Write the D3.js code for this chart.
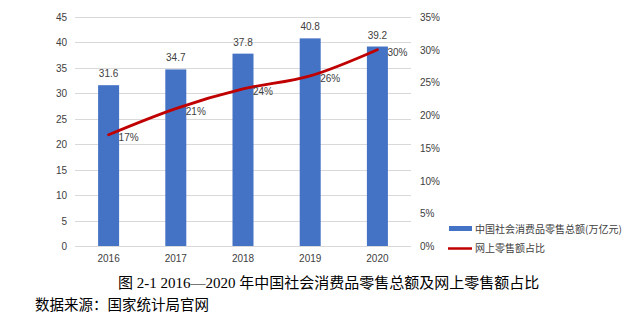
<!DOCTYPE html>
<meta charset="utf-8">
<style>
	body { margin: 0; background: #fff; }
	.tick-label { font-family: "Liberation Sans", "Open Sans", sans-serif; font-size: 10px; fill: #404040; }
	.grid line { stroke: #d9d9d9; stroke-width: 1; }
	.val-label { font-family: "Liberation Sans", "Open Sans", sans-serif; font-size: 10px; fill: #404040; }
	.legend-label { font-family: "Noto Sans CJK SC", sans-serif; font-size: 10px; fill: #404040; }
	.caption { font-family: "Liberation Serif", "Noto Sans CJK SC", serif; fill: #000; }
</style>
<div id="chart"></div>
<script src="https://d3js.org/d3.v7.min.js"></script>
<script>

	// Data
	const years = ["2016", "2017", "2018", "2019", "2020"];
	const retailTotal = [31.6, 34.7, 37.8, 40.8, 39.2];      // 万亿元
	const onlineShare = [0.17, 0.21, 0.24, 0.26, 0.30];
	const leftTicks = [0, 5, 10, 15, 20, 25, 30, 35, 40, 45];
	const rightTicks = [0, 0.05, 0.10, 0.15, 0.20, 0.25, 0.30, 0.35];
	const seriesNames = ["中国社会消费品零售总额(万亿元)", "网上零售额占比"];

	const W = 637, H = 323;
	const plot = { left: 75, right: 411, top: 17, bottom: 246 };

	const svg = d3.select("#chart").append("svg")
		.attr("width", W)
		.attr("height", H);

	// Scales
	const x = d3.scaleBand().domain(years).range([plot.left, plot.right]);
	const yL = d3.scaleLinear().domain([0, 45]).range([plot.bottom, plot.top]);
	const yR = d3.scaleLinear().domain([0, 0.35]).range([plot.bottom, plot.top]);
	const barW = 21;

	// Gridlines
	svg.append("g")
		.attr("class", "grid")
		.selectAll("line")
		.data(leftTicks)
		.join("line")
		.attr("x1", plot.left)
		.attr("x2", plot.right)
		.attr("y1", d => Math.round(yL(d)) + 0.5)
		.attr("y2", d => Math.round(yL(d)) + 0.5);

	// Left axis
	const leftAxis = svg.append("g")
		.attr("transform", `translate(${plot.left - 8},0)`)
		.call(d3.axisLeft(yL).tickValues(leftTicks).tickSize(0).tickPadding(0));
	leftAxis.select(".domain").remove();
	leftAxis.selectAll("text").attr("class", "tick-label").attr("dy", "0.35em");

	// Right axis
	const rightAxis = svg.append("g")
		.attr("transform", `translate(${plot.right + 9},0)`)
		.call(d3.axisRight(yR).tickValues(rightTicks).tickFormat(d3.format(".0%")).tickSize(0).tickPadding(0));
	rightAxis.select(".domain").remove();
	rightAxis.selectAll("text").attr("class", "tick-label").attr("dy", "0.35em");

	// Bottom axis labels
	const bottomAxis = svg.append("g")
		.attr("transform", `translate(0,${plot.bottom})`)
		.call(d3.axisBottom(x).tickSize(0).tickPadding(9));
	bottomAxis.select(".domain").remove();
	bottomAxis.selectAll("text").attr("class", "tick-label");

	// Bars
	svg.selectAll(".bar")
		.data(years)
		.join("rect")
		.attr("class", "bar")
		.attr("x", d => x(d) + x.bandwidth() / 2 - barW / 2)
		.attr("y", (d, i) => yL(retailTotal[i]))
		.attr("width", barW)
		.attr("height", (d, i) => plot.bottom - yL(retailTotal[i]))
		.attr("fill", "#4472c4");

	// Bar values
	svg.selectAll(".bar-val")
		.data(years)
		.join("text")
		.attr("class", "val-label")
		.attr("x", d => x(d) + x.bandwidth() / 2)
		.attr("y", (d, i) => yL(retailTotal[i]) - 8)
		.attr("text-anchor", "middle")
		.text((d, i) => retailTotal[i].toFixed(1));

	// Share line
	const line = d3.line()
		.x((d, i) => x(years[i]) + x.bandwidth() / 2)
		.y(d => yR(d))
		.curve(d3.curveMonotoneX);

	svg.append("path")
		.datum(onlineShare)
		.attr("d", line)
		.attr("fill", "none")
		.attr("stroke", "#c00000")
		.attr("stroke-width", 2.8)
		.attr("stroke-linecap", "round");

	svg.selectAll(".share-val")
		.data(onlineShare)
		.join("text")
		.attr("class", "val-label")
		.attr("x", (d, i) => x(years[i]) + x.bandwidth() / 2 + 10)
		.attr("y", d => yR(d) + 6)
		.text(d => d3.format(".0%")(d));

	// Legend
	const legend = svg.append("g");
	legend.append("rect")
		.attr("x", 449).attr("y", 226)
		.attr("width", 23).attr("height", 5)
		.attr("fill", "#4472c4");
	legend.append("text")
		.attr("class", "legend-label")
		.attr("x", 475).attr("y", 229)
		.attr("dy", "0.35em")
		.text(seriesNames[0]);
	legend.append("line")
		.attr("x1", 448).attr("x2", 472)
		.attr("y1", 248.5).attr("y2", 248.5)
		.attr("stroke", "#c00000")
		.attr("stroke-width", 2.5);
	legend.append("text")
		.attr("class", "legend-label")
		.attr("x", 475).attr("y", 248)
		.attr("dy", "0.35em")
		.text(seriesNames[1]);

	// Caption and source
	svg.append("text")
		.attr("class", "caption")
		.attr("x", 118).attr("y", 288)
		.style("font-size", "15px")
		.text("图 2-1 2016—2020 年中国社会消费品零售总额及网上零售额占比");

	svg.append("text")
		.attr("class", "caption")
		.attr("x", 35).attr("y", 310)
		.style("font-size", "14.5px")
		.text("数据来源：国家统计局官网");
</script>
